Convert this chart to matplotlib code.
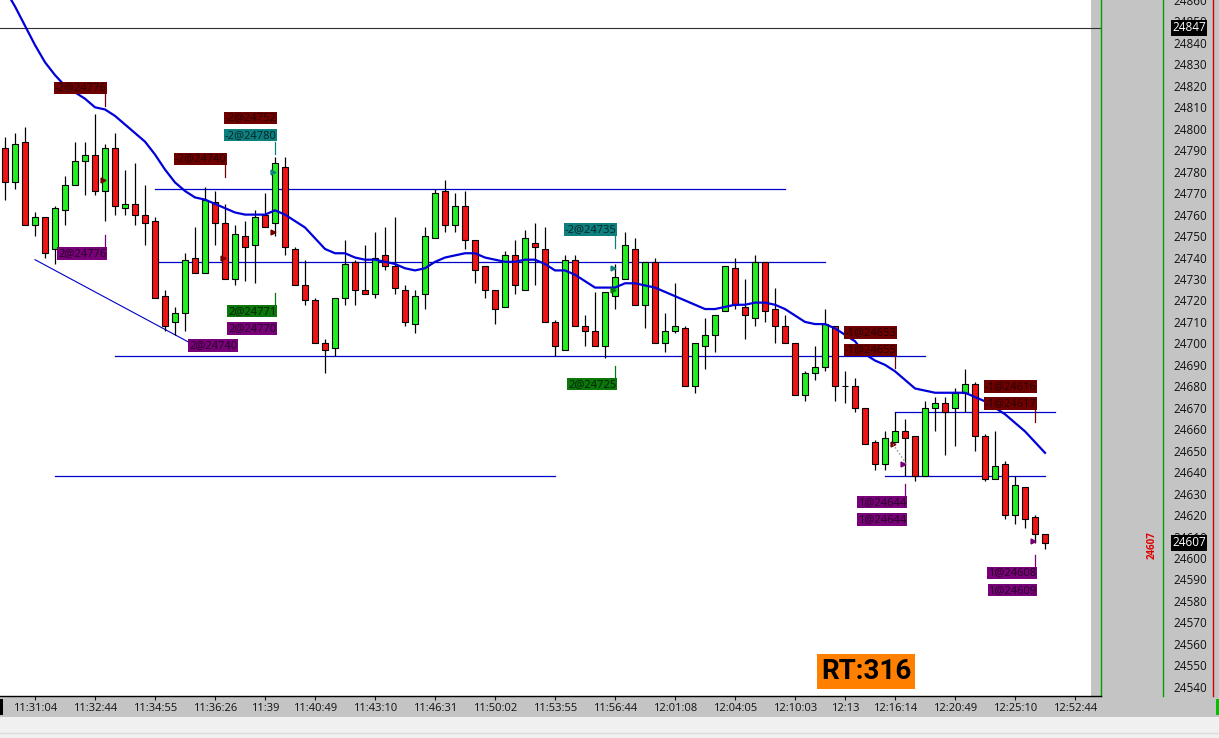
import matplotlib
matplotlib.use("Agg")
import matplotlib.pyplot as plt
from matplotlib.lines import Line2D
from matplotlib.patches import Rectangle
from matplotlib import transforms

# Bougies (open, high, low, close)
opens = [24791, 24775, 24794, 24755, 24759, 24744, 24762, 24774, 24785, 24788,
         24771, 24791, 24763, 24765, 24760, 24757, 24722, 24710, 24714, 24740,
         24733, 24766, 24756, 24730, 24750, 24746, 24760, 24756, 24782, 24744,
         24727, 24720, 24700, 24698, 24721, 24738, 24725, 24723, 24741, 24736,
         24725, 24709, 24723, 24749, 24771, 24755, 24764, 24748, 24736, 24725,
         24717, 24741, 24725, 24747, 24744, 24710, 24697, 24739, 24708, 24706,
         24699, 24722, 24730, 24744, 24718, 24738, 24700, 24706, 24707, 24680,
         24699, 24704, 24715, 24735, 24717, 24712, 24738, 24716, 24708, 24700,
         24676, 24686, 24689, 24708, 24680, 24680, 24670, 24654, 24644, 24654,
         24659, 24657, 24638, 24670, 24672, 24670, 24677, 24681, 24657, 24637,
         24644, 24620, 24633, 24619, 24611]
highs = [24796, 24798, 24801, 24761, 24759, 24764, 24778, 24794, 24794, 24807,
         24793, 24798, 24781, 24784, 24774, 24759, 24725, 24717, 24742, 24754,
         24773, 24771, 24765, 24755, 24757, 24762, 24770, 24787, 24787, 24745,
         24739, 24721, 24702, 24721, 24748, 24739, 24746, 24752, 24754, 24759,
         24727, 24725, 24754, 24772, 24776, 24770, 24771, 24748, 24736, 24725,
         24743, 24748, 24753, 24756, 24754, 24711, 24741, 24741, 24713, 24724,
         24724, 24737, 24752, 24749, 24738, 24740, 24714, 24728, 24708, 24700,
         24712, 24713, 24736, 24740, 24730, 24741, 24738, 24726, 24713, 24700,
         24687, 24699, 24716, 24708, 24687, 24684, 24670, 24655, 24659, 24668,
         24665, 24657, 24673, 24675, 24675, 24679, 24688, 24682, 24658, 24659,
         24645, 24638, 24633, 24620, 24611]
lows = [24767, 24772, 24755, 24750, 24740, 24737, 24755, 24774, 24769, 24769,
        24757, 24760, 24760, 24755, 24746, 24721, 24706, 24704, 24706, 24733,
        24733, 24746, 24730, 24727, 24729, 24728, 24754, 24750, 24741, 24727,
        24718, 24700, 24686, 24694, 24718, 24718, 24723, 24721, 24734, 24723,
        24708, 24705, 24716, 24749, 24752, 24752, 24744, 24728, 24721, 24709,
        24717, 24723, 24725, 24727, 24710, 24694, 24697, 24708, 24699, 24699,
        24693, 24716, 24730, 24718, 24707, 24700, 24696, 24705, 24680, 24677,
        24688, 24696, 24715, 24716, 24702, 24708, 24710, 24700, 24700, 24676,
        24673, 24683, 24687, 24673, 24672, 24668, 24653, 24641, 24641, 24654,
        24638, 24636, 24638, 24659, 24648, 24652, 24668, 24650, 24636, 24637,
        24618, 24616, 24614, 24607, 24604]
closes = [24775, 24793, 24755, 24759, 24742, 24763, 24774, 24785, 24788, 24771,
          24791, 24764, 24765, 24760, 24756, 24721, 24708, 24714, 24739, 24733,
          24767, 24756, 24730, 24751, 24745, 24759, 24754, 24784, 24745, 24727,
          24720, 24700, 24697, 24721, 24737, 24725, 24723, 24740, 24736, 24726,
          24710, 24722, 24750, 24770, 24755, 24764, 24748, 24734, 24725, 24716,
          24741, 24727, 24749, 24745, 24710, 24699, 24739, 24708, 24706, 24699,
          24724, 24731, 24746, 24718, 24738, 24700, 24706, 24708, 24680, 24700,
          24704, 24713, 24736, 24718, 24713, 24738, 24715, 24708, 24700, 24676,
          24686, 24689, 24709, 24680, 24680, 24670, 24653, 24644, 24656, 24659,
          24656, 24638, 24670, 24672, 24668, 24677, 24681, 24657, 24637, 24643,
          24620, 24634, 24618, 24611, 24607]

# Moyenne mobile (ligne bleue), une valeur par bougie
moving_avg = [24865, 24857, 24848, 24839, 24831, 24825, 24820, 24817, 24814, 24810,
              24809, 24806, 24802, 24798, 24794, 24788, 24781, 24775, 24771, 24768,
              24767, 24765, 24763, 24761, 24760, 24760, 24760, 24762, 24760, 24757,
              24754, 24749, 24744, 24742, 24742, 24740, 24739, 24739, 24738, 24737,
              24735, 24734, 24735, 24738, 24740, 24741, 24742, 24742, 24740, 24739,
              24738, 24738, 24739, 24739, 24737, 24734, 24734, 24732, 24729, 24726,
              24726, 24726, 24728, 24728, 24727, 24726, 24724, 24722, 24720, 24718,
              24716, 24716, 24717, 24718, 24718, 24719, 24719, 24718, 24716, 24713,
              24710, 24709, 24709, 24707, 24704, 24701, 24695, 24692, 24690, 24687,
              24683, 24679, 24678, 24677, 24677, 24677, 24677, 24675, 24673, 24670,
              24667, 24663, 24659, 24654, 24649]

# Lignes horizontales tracées (prix, barre de début, barre de fin)
hline_prices = [24772, 24738, 24694, 24638, 24668, 24638]
hline_start = [15, 15, 11, 5, 89, 88]
hline_end = [78, 82, 92, 55, 105, 104]

# Ligne de tendance (barre, prix)
trend_bars = [3, 19.8]
trend_prices = [24739, 24697]

last_marker_price = 24847
last_price = 24607

# Étiquettes des ordres exécutés : texte, barre, niveau, type, connecteur (-1 bas, 1 haut, 0 aucun)
order_texts = ["-2@24776", "-2@24752", "-2@24780", "-2@24740", "2@24776", "2@24771",
               "2@24770", "2@24740", "-2@24735", "2@24725", "-1@24653", "-1@24655",
               "-1@24616", "-1@24617", "1@24644", "1@24644", "1@24608", "1@24609"]
order_bars = [10, 27, 27, 22, 10, 27, 27, 23.1, 61, 61, 89, 89, 103, 103, 90, 90, 103, 103]
order_levels = [24819, 24805, 24797, 24786, 24742, 24715, 24707, 24699, 24753, 24681,
                24705, 24697, 24680, 24672, 24626, 24618, 24593, 24585]
order_kind = ["sell", "sell", "sellx", "sell", "buyx", "buy", "buyx", "buyx", "sellx", "buy",
              "sell", "sell", "sell", "sell", "buyx", "buyx", "buyx", "buyx"]
order_link = [-1, 0, -1, -1, 1, 1, 0, 0, -1, 1, 0, -1, 0, -1, 1, 0, 1, 0]

# Petites marques d'exécution sur les bougies
fill_bars = [10, 27, 27, 22, 61, 61, 89, 90, 103]
fill_prices = [24776, 24780, 24752, 24740, 24735, 24725, 24653, 24644, 24608]
fill_kind = ["sell", "sellx", "sell", "sell", "sellx", "buy", "sell", "buyx", "buyx"]

# Axe du temps
time_ticks = [3, 9, 15, 21, 26, 31, 37, 43, 49, 55, 61, 67, 73, 79, 84, 89, 95, 101, 107]
time_labels = ["11:31:04", "11:32:44", "11:34:55", "11:36:26", "11:39", "11:40:49",
               "11:43:10", "11:46:31", "11:50:02", "11:53:55", "11:56:44", "12:01:08",
               "12:04:05", "12:10:03", "12:13", "12:16:14", "12:20:49", "12:25:10", "12:52:44"]

price_ticks = list(range(24540, 24861, 10))
rt_value = 316

box_colors = {"sell": "#6e0000", "sellx": "#0e7f7f", "buy": "#0b760b", "buyx": "#780078"}
text_colors = {"sell": "#260000", "sellx": "#002424", "buy": "#002200", "buyx": "#220022"}

W, H = 1219, 738
fig = plt.figure(figsize=(W / 100, H / 100), dpi=100)
fig.patch.set_facecolor("#c4c4c4")

ax = fig.add_axes([0, 1 - 696 / H, 1101 / W, 696 / H])
ax.set_facecolor("white")
ax.set_xlim(-0.5, 109.6)
ax.set_ylim(24535.7, 24858.6)

for side in ["top", "left"]:
    ax.spines[side].set_visible(False)
ax.spines["right"].set_color("#00a000")
ax.spines["right"].set_linewidth(1)
ax.spines["bottom"].set_color("black")
ax.spines["bottom"].set_linewidth(1)

# bande grise à droite des bougies
ax.axvspan(108.6, 109.6, color="#c4c4c4", lw=0, zorder=0)

n = len(closes)
bars = list(range(n))

# lignes horizontales et tendance
for p, s, e in zip(hline_prices, hline_start, hline_end):
    ax.plot([s, e], [p, p], color="#0000c8", lw=0.9, zorder=2)
ax.plot(trend_bars, trend_prices, color="#0000c8", lw=0.8, zorder=2)
ax.axhline(last_marker_price, color="#303030", lw=0.8, zorder=2)

# bougies
up = [c >= o for o, c in zip(opens, closes)]
colors = ["#22ee22" if u else "#f01414" for u in up]
ax.vlines(bars, lows, highs, color="black", lw=0.9, zorder=3)
ax.bar(bars, [abs(c - o) for o, c in zip(opens, closes)],
       bottom=[min(o, c) for o, c in zip(opens, closes)],
       width=0.68, color=colors, edgecolor="black", linewidth=0.8, zorder=4)

# moyenne mobile
ax.plot(bars, moving_avg, color="#0000d8", lw=1.6, zorder=5)

# marques d'exécution
for b, p, k in zip(fill_bars, fill_prices, fill_kind):
    ax.plot(b - 0.2, p, marker=">", ms=3.5, color=box_colors[k], zorder=6)
ax.plot([fill_bars[6] - 0.2, fill_bars[7] + 0.1], [fill_prices[6], fill_prices[7]],
        ls=":", color="#909090", lw=1, zorder=6)

# étiquettes des ordres
label_font = "Open Sans"
for t, b, lvl, k, link in zip(order_texts, order_bars, order_levels, order_kind, order_link):
    ax.text(b + 0.15, lvl, t, ha="right", va="center", fontsize=8, family=label_font,
            color=text_colors[k], zorder=7,
            bbox=dict(boxstyle="square,pad=0.07", fc=box_colors[k], ec="none"))
    if link != 0:
        y0 = lvl + link * 3.0
        ax.plot([b - 0.05, b - 0.05], [y0, y0 + link * 5.6], color=box_colors[k], lw=0.9, zorder=6)

# RT
ax.text(86.1, 24547, "RT:" + str(rt_value), ha="center", va="center", fontsize=20,
        family="Roboto", fontweight="bold", color="black", zorder=8,
        bbox=dict(boxstyle="square,pad=0.14", fc="#ff8000", ec="none"))

# axe des prix à droite
ax.set_yticks(price_ticks)
ax.tick_params(axis="y", left=False, labelleft=False, right=False, labelright=True,
               length=0, pad=52, labelsize=8.5, labelcolor="#111111")
for lbl in ax.get_yticklabels():
    lbl.set_family(label_font)

# axe du temps
ax.set_xticks(time_ticks)
ax.set_xticklabels(time_labels)
ax.tick_params(axis="x", length=3, width=0.8, pad=2, labelsize=8, colors="#111111")
for lbl in ax.get_xticklabels():
    lbl.set_family(label_font)

# boîtes noires des prix courants
tr = transforms.blended_transform_factory(fig.transFigure, ax.transData)
for p in [last_marker_price, last_price]:
    fig.text(1172 / W, p, str(p), transform=tr, ha="left", va="center", fontsize=8.5,
             family=label_font, color="white", zorder=10,
             bbox=dict(boxstyle="square,pad=0.12", fc="black", ec="none"))

# petit repère rouge dans le panneau (profil)
fig.text(1152 / W, last_price - 1, str(last_price), transform=tr, ha="center", va="center",
         fontsize=7, fontweight="bold", rotation=90, color="#e00000", family=label_font)

# lignes verticales du panneau de droite
fig.add_artist(Line2D([1163 / W, 1163 / W], [1 - 696 / H, 1], color="#00a000", lw=1))
fig.add_artist(Line2D([1213 / W, 1213 / W], [1 - 696 / H, 1], color="#d00000", lw=1))

# bandes du bas
fig.add_artist(Rectangle((0, 0), 1, 21 / H, transform=fig.transFigure,
                         fc="#f0f0f0", ec="none"))
fig.add_artist(Line2D([0, 1], [5 / H, 5 / H], color="#dcdcdc", lw=1))
fig.add_artist(Rectangle((0, 23 / H), 3 / W, 16 / H, transform=fig.transFigure,
                         fc="black", ec="none"))
fig.add_artist(Rectangle((1216 / W, 23 / H), 3 / W, 16 / H, transform=fig.transFigure,
                         fc="#00c000", ec="none"))

fig.savefig("out.png", dpi=100, facecolor=fig.get_facecolor())
